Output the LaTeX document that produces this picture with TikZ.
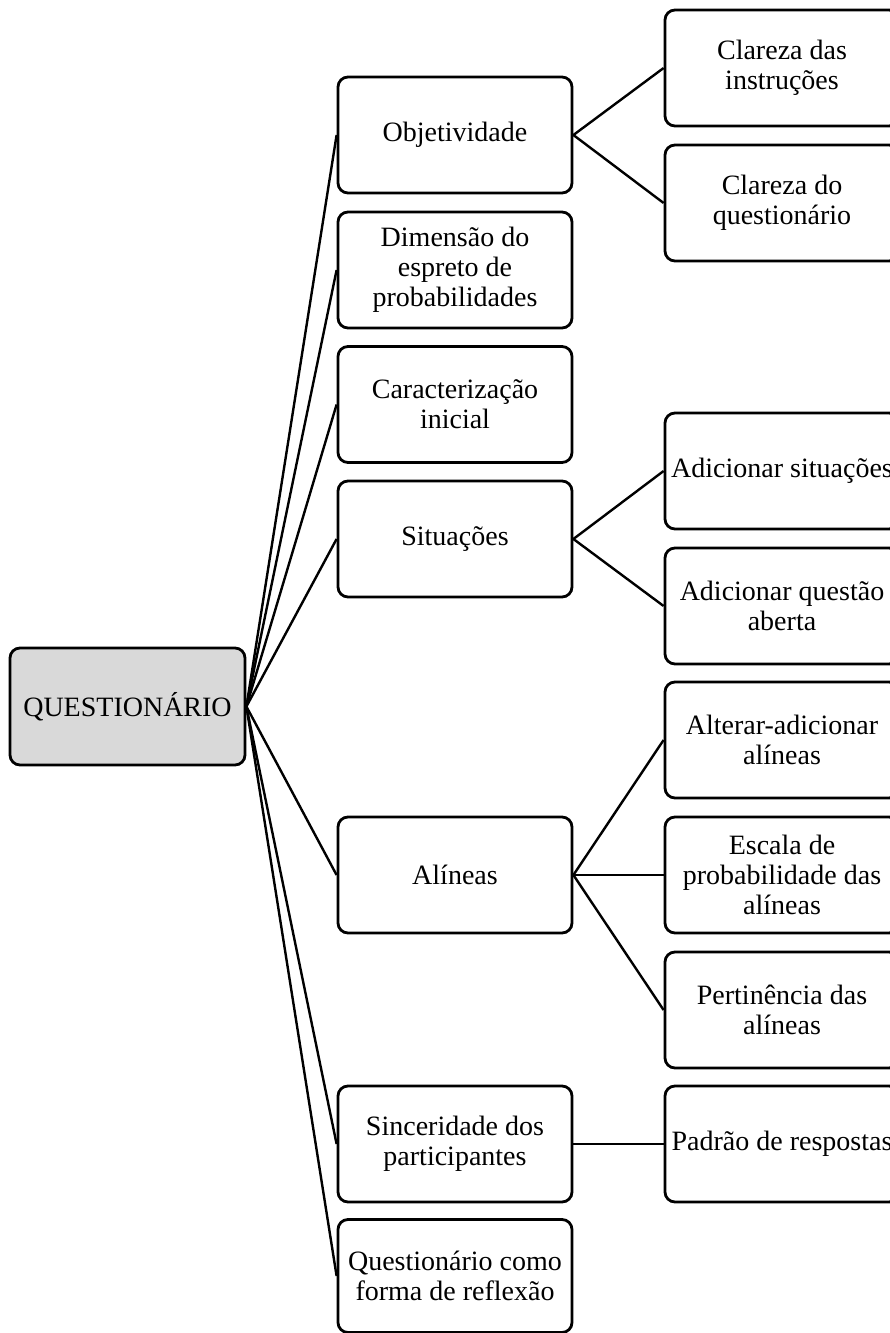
\documentclass[tikz,border=0pt]{standalone}
\usepackage{fontspec}
\setmainfont{Liberation Serif}
\begin{document}
\begin{tikzpicture}[x=1pt,y=-1pt,
  box/.style={draw=black, line width=2.8pt, rounded corners=10pt, minimum width=234pt, minimum height=116pt, inner sep=0pt, align=center, font=\fontsize{28}{30}\selectfont},
  rootbox/.style={box, fill=rootgray, minimum width=235pt, minimum height=117pt},
  link/.style={draw=black, line width=2.4pt}]
\definecolor{rootgray}{HTML}{D9D9D9}
\useasboundingbox (0,0) rectangle (890,1333);
\clip (0,0) rectangle (890,1333);
\node[rootbox] (root) at (127.5,706.5) {QUESTIONÁRIO};
\node[box] (m1) at (455,135) {Objetividade};
\node[box] (m2) at (455,270) {Dimensão do\\espreto de\\probabilidades};
\node[box] (m3) at (455,404.5) {Caracterização\\inicial};
\node[box] (m4) at (455,539) {Situações};
\node[box] (m5) at (455,875) {Alíneas};
\node[box] (m6) at (455,1144) {Sinceridade dos\\participantes};
\node[box, minimum height=113pt] (m7) at (455,1276) {Questionário como\\forma de reflexão};
\node[box] (r1) at (782,68) {Clareza das\\instruções};
\node[box] (r2) at (782,203) {Clareza do\\questionário};
\node[box] (r3) at (782,471) {Adicionar situações};
\node[box] (r4) at (782,606) {Adicionar questão\\aberta};
\node[box] (r5) at (782,740) {Alterar-adicionar\\alíneas};
\node[box] (r6) at (782,875) {Escala de\\probabilidade das\\alíneas};
\node[box] (r7) at (782,1010) {Pertinência das\\alíneas};
\node[box] (r8) at (782,1144) {Padrão de respostas};
\foreach \m in {m1,m2,m3,m4,m5,m6,m7} \draw[link] (root.east) -- (\m.west);
\draw[link] (m1.east) -- (r1.west);
\draw[link] (m1.east) -- (r2.west);
\draw[link] (m4.east) -- (r3.west);
\draw[link] (m4.east) -- (r4.west);
\draw[link] (m5.east) -- (r5.west);
\draw[link] (m5.east) -- (r6.west);
\draw[link] (m5.east) -- (r7.west);
\draw[link] (m6.east) -- (r8.west);
\end{tikzpicture}
\end{document}
